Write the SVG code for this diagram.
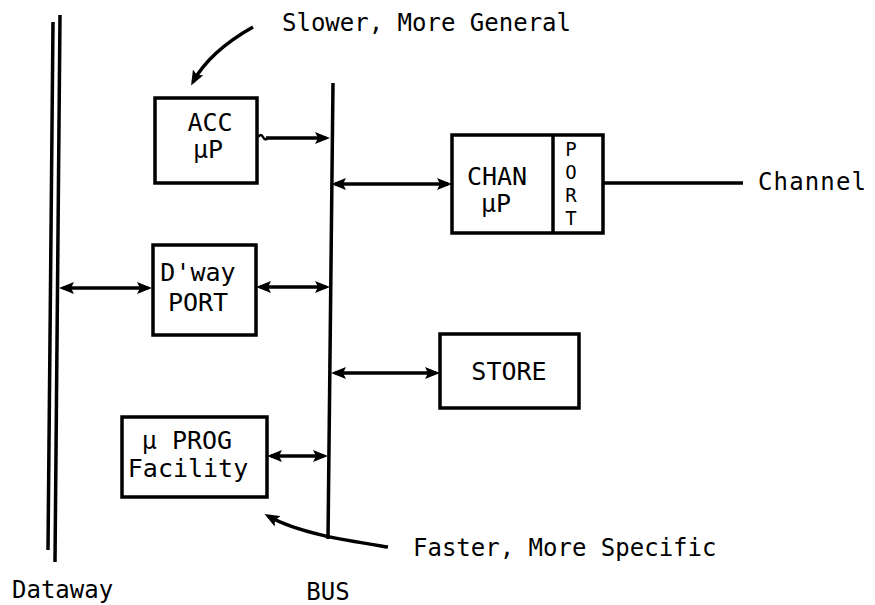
<svg xmlns="http://www.w3.org/2000/svg" width="875" height="605" viewBox="0 0 875 605">
<defs>
<marker id="ah" viewBox="0 0 15 12" refX="11" refY="6" markerWidth="15" markerHeight="12" markerUnits="userSpaceOnUse" orient="auto-start-reverse">
<path d="M0,0 L15,6 L0,12 L3,6 z" fill="#000"/>
</marker>
</defs>
<style>
text{font-family:"DejaVu Sans Mono","Liberation Mono",monospace;font-size:24px;fill:#000}
.c{text-anchor:middle}
.b{font-size:25px}
.box{fill:#fff;stroke:#000;stroke-width:3.5}
.ln{fill:none;stroke:#000;stroke-width:3.5}
.thin{fill:none;stroke:#000;stroke-width:2.5}
.ar{fill:none;stroke:#000;stroke-width:3.5;marker-end:url(#ah)}
.da{fill:none;stroke:#000;stroke-width:3.5;marker-start:url(#ah);marker-end:url(#ah)}
.pv{font-size:19px;writing-mode:vertical-rl;text-orientation:upright;letter-spacing:1px}
</style>
<rect width="875" height="605" fill="#fff"/>

<g id="dataway">
<line class="ln" x1="53" y1="22" x2="48" y2="550"/>
<line class="ln" x1="60" y1="15" x2="55" y2="562"/>
<text x="12" y="598">Dataway</text>
</g>

<g id="bus">
<line class="ln" x1="333" y1="83" x2="328" y2="539"/>
<text class="c" x="328" y="600">BUS</text>
</g>

<g id="acc">
<rect class="box" x="155" y="98" width="102" height="85"/>
<text class="c b" x="210" y="131">ACC</text>
<text class="c b" x="208" y="158">μP</text>
</g>

<g id="dway">
<rect class="box" x="153" y="245" width="103" height="90"/>
<text class="c b" x="198" y="281">D'way</text>
<text class="c b" x="198" y="311">PORT</text>
</g>

<g id="uprog">
<rect class="box" x="122" y="417" width="145" height="80"/>
<text class="c b" x="187" y="449">μ PROG</text>
<text class="c b" x="188" y="477">Facility</text>
</g>

<g id="chan">
<rect class="box" x="452" y="135" width="151" height="98"/>
<line class="ln" x1="553" y1="135" x2="553" y2="233"/>
<text class="c b" x="497" y="185">CHAN</text>
<text class="c b" x="496" y="212">μP</text>
<text class="pv" x="571" y="138">PORT</text>
</g>

<g id="store">
<rect class="box" x="440" y="334" width="139" height="74"/>
<text class="c b" x="509" y="380">STORE</text>
</g>

<g id="labels">
<text x="282" y="31">Slower, More General</text>
<text x="413" y="556">Faster, More Specific</text>
<text x="758" y="190" textLength="108">Channel</text>
</g>

<g id="connectors">
<line class="ar" x1="266" y1="138" x2="326" y2="138"/>
<path class="thin" d="M258,137 q3,-4 5,0 q2,4 5,1"/>
<line class="da" x1="63" y1="288" x2="148" y2="288"/>
<line class="da" x1="260" y1="287" x2="326" y2="287"/>
<line class="da" x1="335" y1="184" x2="448" y2="184"/>
<line class="da" x1="335" y1="373" x2="436" y2="373"/>
<line class="da" x1="271" y1="456" x2="324" y2="456"/>
<line class="ln" x1="603" y1="183" x2="743" y2="183"/>
<path class="ar" d="M253,27 C230,40 206,58 193,82"/>
<path class="ar" d="M388,547 C350,541 300,534 268,516"/>
</g>
</svg>
